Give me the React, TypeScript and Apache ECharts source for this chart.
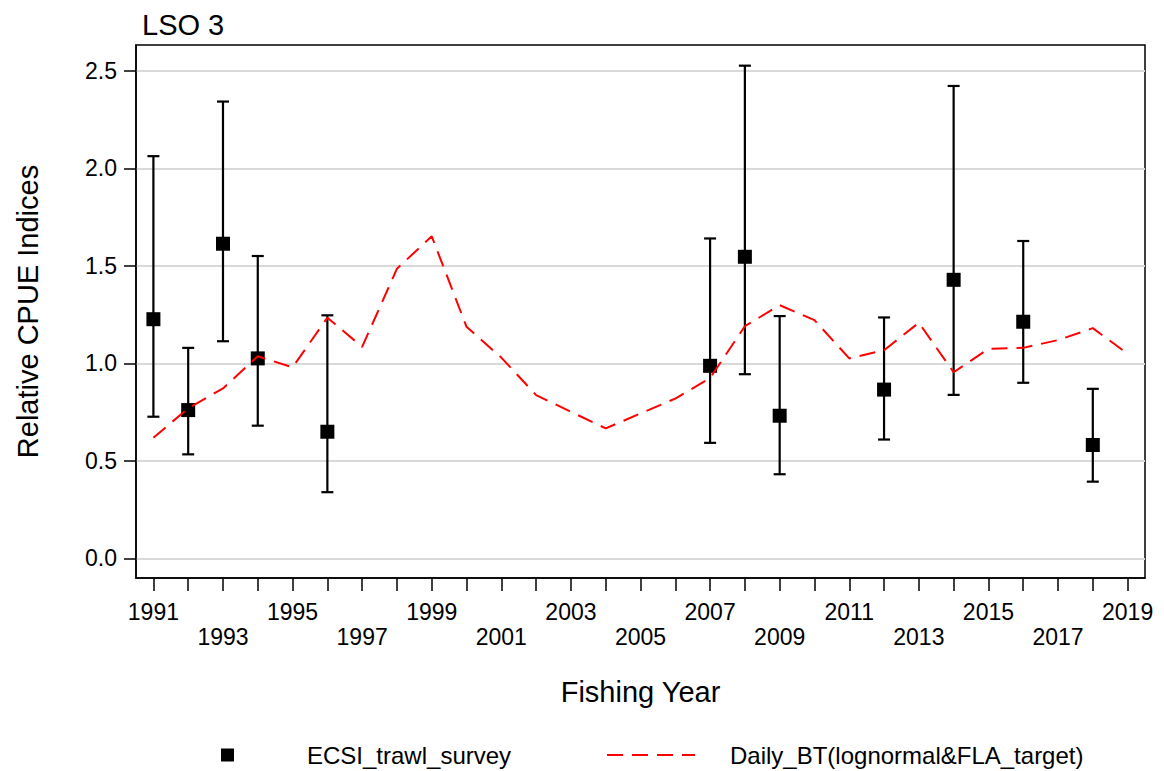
import { useEffect, useRef } from 'react'
import * as echarts from 'echarts'

// fishing years on the x axis
const years = [
  '1991', '1992', '1993', '1994', '1995', '1996', '1997', '1998', '1999', '2000',
  '2001', '2002', '2003', '2004', '2005', '2006', '2007', '2008', '2009', '2010',
  '2011', '2012', '2013', '2014', '2015', '2016', '2017', '2018', '2019',
]

// Daily_BT(lognormal&FLA_target) standardised index
const dailyBT = [
  0.619, 0.77, 0.872, 1.037, 0.98, 1.235, 1.085, 1.486, 1.652, 1.188,
  1.03, 0.838, 0.752, 0.667, 0.744, 0.82, 0.925, 1.191, 1.299, 1.222,
  1.026, 1.068, 1.209, 0.955, 1.075, 1.08, 1.12, 1.181, 1.05,
]

// ECSI trawl survey index with confidence limits
const surveyYears = ['1991', '1992', '1993', '1994', '1996', '2007', '2008', '2009', '2012', '2014', '2016', '2018']
const surveyIndex = [1.227, 0.761, 1.614, 1.026, 0.65, 0.988, 1.547, 0.732, 0.866, 1.429, 1.214, 0.582]
const surveyLower = [0.727, 0.534, 1.114, 0.681, 0.34, 0.593, 0.945, 0.432, 0.61, 0.839, 0.901, 0.394]
const surveyUpper = [2.063, 1.08, 2.343, 1.551, 1.247, 1.641, 2.527, 1.243, 1.236, 2.423, 1.628, 0.87]

const yTicks = [0, 0.5, 1, 1.5, 2, 2.5]

const FONT = '"Liberation Sans", Arial, sans-serif'
const SURVEY = 'ECSI_trawl_survey'
const DAILY = 'Daily_BT(lognormal&FLA_target)'

function App() {
  const chartRef = useRef<HTMLDivElement>(null)

  useEffect(() => {
    document.body.style.margin = '0'
    if (!chartRef.current) return
    const chart = echarts.init(chartRef.current, undefined, { renderer: 'svg' })

    const option: echarts.EChartsOption = {
      animation: false,
      backgroundColor: '#fff',
      textStyle: { fontFamily: FONT },
      title: {
        text: 'LSO 3',
        left: 137,
        top: 5,
        textStyle: { fontFamily: FONT, fontSize: 29, fontWeight: 'normal', color: '#000' },
      },
      legend: [
        {
          data: [SURVEY],
          left: 216,
          top: 738,
          icon: 'rect',
          itemWidth: 13,
          itemHeight: 13,
          textStyle: { fontFamily: FONT, fontSize: 24, color: '#000', padding: [0, 0, 0, 68] },
        },
        {
          data: [DAILY],
          left: 601,
          top: 738,
          itemWidth: 88,
          itemHeight: 13,
          itemStyle: { opacity: 0 },
          textStyle: { fontFamily: FONT, fontSize: 24, color: '#000', padding: [0, 0, 0, 30] },
        },
      ],
      grid: {
        left: 136,
        right: 19,
        top: 45,
        bottom: 193,
        show: true,
        borderColor: '#000',
        borderWidth: 1.5,
        backgroundColor: '#fff',
      },
      xAxis: {
        type: 'category',
        data: years,
        boundaryGap: true,
        name: 'Fishing Year',
        nameLocation: 'middle',
        nameGap: 99,
        nameTextStyle: { fontFamily: FONT, fontSize: 29, color: '#000' },
        axisLine: { show: true, onZero: false, lineStyle: { color: '#000', width: 1.5 } },
        axisTick: {
          show: true,
          alignWithLabel: true,
          interval: 0,
          length: 13,
          lineStyle: { color: '#000', width: 1.5 },
        },
        axisLabel: {
          interval: 0,
          margin: 21,
          fontFamily: FONT,
          fontSize: 23,
          lineHeight: 25,
          color: '#000',
          formatter: (v: string) => {
            const k = Number(v) - 1991
            if (k % 2 !== 0) return ''
            return k % 4 === 0 ? v : '\n' + v
          },
        },
        splitLine: { show: false },
      },
      yAxis: {
        type: 'value',
        min: -0.1,
        max: 2.633,
        name: 'Relative CPUE Indices',
        nameLocation: 'middle',
        nameGap: 94,
        nameTextStyle: { fontFamily: FONT, fontSize: 29, color: '#000' },
        axisLine: { show: true, lineStyle: { color: '#000', width: 1.5 } },
        axisTick: { show: true, length: 12, customValues: yTicks, lineStyle: { color: '#000', width: 1.5 } },
        axisLabel: {
          customValues: yTicks,
          margin: 19,
          fontFamily: FONT,
          fontSize: 23,
          color: '#000',
          formatter: (v: number) => v.toFixed(1),
        },
        splitLine: { show: true, lineStyle: { color: '#d9d9d9', width: 2 } },
      },
      series: [
        {
          type: 'custom',
          name: 'errbar',
          z: 2,
          encode: { x: 0, y: [1, 2] },
          data: surveyYears.map((y, i) => [y, surveyLower[i], surveyUpper[i]]),
          renderItem: (_params: any, api: any) => {
            const x = api.value(0)
            const lo = api.coord([x, api.value(1)])
            const hi = api.coord([x, api.value(2)])
            const half = 6
            const style = { stroke: '#000', lineWidth: 2.2 }
            return {
              type: 'group',
              children: [
                { type: 'line', shape: { x1: lo[0], y1: lo[1], x2: hi[0], y2: hi[1] }, style },
                { type: 'line', shape: { x1: lo[0] - half, y1: lo[1], x2: lo[0] + half, y2: lo[1] }, style },
                { type: 'line', shape: { x1: hi[0] - half, y1: hi[1], x2: hi[0] + half, y2: hi[1] }, style },
              ],
            }
          },
        },
        {
          type: 'scatter',
          name: SURVEY,
          z: 3,
          symbol: 'rect',
          symbolSize: 14,
          itemStyle: { color: '#000', opacity: 1 },
          data: surveyYears.map((y, i) => [y, surveyIndex[i]]),
        },
        {
          type: 'line',
          name: DAILY,
          z: 4,
          symbol: 'none',
          data: dailyBT,
          itemStyle: { color: '#ff0000' },
          lineStyle: { color: '#ff0000', width: 2, type: [16, 9] },
        },
      ],
    }

    chart.setOption(option)

    return () => {
      chart.dispose()
    }
  }, [])

  return <div ref={chartRef} style={{ width: 1164, height: 771 }} />
}

export default App
